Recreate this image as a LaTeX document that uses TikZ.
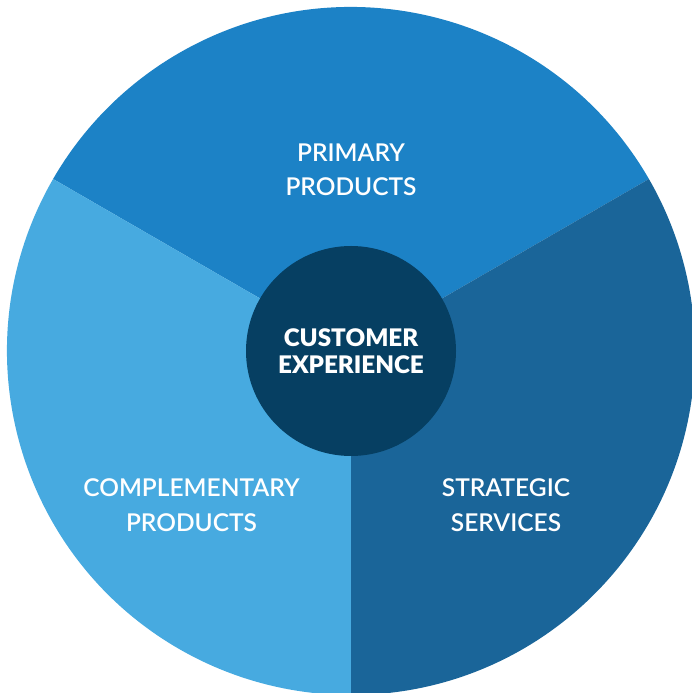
\documentclass[tikz,border=0pt]{standalone}
\usepackage{fontspec}
\setmainfont{Lato}
\newfontfamily\labelfont{Lato Semibold}
\newfontfamily\hubfont{Lato Black}
\definecolor{cTop}{RGB}{28,130,198}
\definecolor{cRight}{RGB}{26,101,153}
\definecolor{cLeft}{RGB}{71,170,224}
\definecolor{cCenter}{RGB}{6,63,98}
\tikzset{
  sectorlabel/.style={text=white, align=center, font=\labelfont\fontsize{24.5}{34.5}\selectfont},
  centerlabel/.style={text=white, align=center, font=\hubfont\fontsize{24.2}{27}\selectfont},
}
\begin{document}
\begin{tikzpicture}[x=1pt,y=1pt]
\useasboundingbox (0,0) rectangle (692,693);
\clip (0,0) rectangle (692,693);
\coordinate (c) at (351,342);
\fill[cTop] (c) -- ++(30:344) arc[start angle=30,end angle=150,radius=344] -- cycle;
\fill[cLeft] (c) -- ++(150:344) arc[start angle=150,end angle=270,radius=344] -- cycle;
\fill[cRight] (c) -- ++(270:344) arc[start angle=270,end angle=390,radius=344] -- cycle;
\node[circle, fill=cCenter, minimum size=210pt, inner sep=0pt] (hub) at (c) {};
\node[centerlabel] (cx) at (351,342) {CUSTOMER\\EXPERIENCE};
\node[sectorlabel] (pp) at (351,523) {PRIMARY\\PRODUCTS};
\node[sectorlabel] (cp) at (191.5,188) {COMPLEMENTARY\\PRODUCTS};
\node[sectorlabel] (ss) at (506,188) {STRATEGIC\\SERVICES};
\end{tikzpicture}
\end{document}
